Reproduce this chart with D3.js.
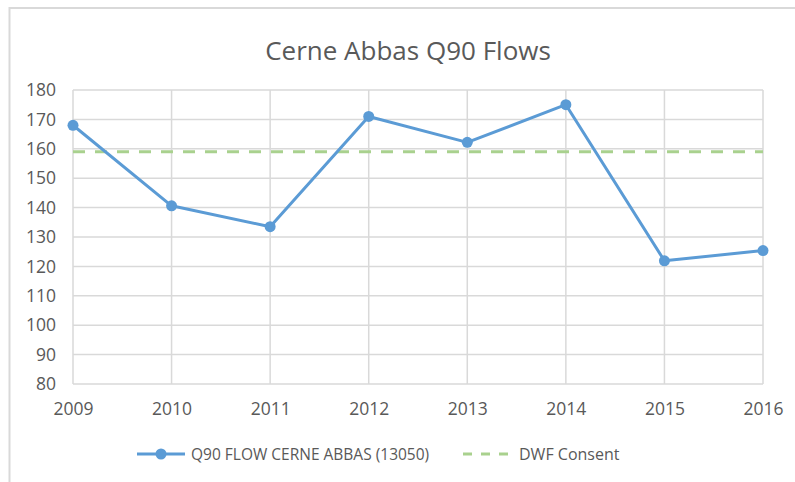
<!DOCTYPE html>
<html>
<head>
<meta charset="utf-8">
<script src="https://cdn.jsdelivr.net/npm/d3@7"></script>
<style>
  body { margin: 0; background: #fff; }
  svg { display: block; font-family: "Open Sans", "Liberation Sans", sans-serif; }
</style>
</head>
<body>
<svg id="chart" width="795" height="482"></svg>
<script>
// Chart data
const years = [2009, 2010, 2011, 2012, 2013, 2014, 2015, 2016];
const q90Flow = [168, 140.6, 133.5, 171, 162.2, 175, 121.9, 125.4];
const dwfConsent = [159, 159, 159, 159, 159, 159, 159, 159];
const yTicks = [80, 90, 100, 110, 120, 130, 140, 150, 160, 170, 180];

const blue = "#5b9bd5";
const green = "#a9d18e";
const grid = "#d9d9d9";
const textColor = "#595959";

const svg = d3.select("#chart");

// Outer chart border (only top/left visible in the frame)
svg.append("rect")
  .attr("x", 9.5).attr("y", 8)
  .attr("width", 800).attr("height", 490)
  .attr("fill", "none")
  .attr("stroke", "#d9d9d9")
  .attr("stroke-width", 2);

// Scales
const x = d3.scalePoint().domain(years).range([73, 763]);
const y = d3.scaleLinear().domain([80, 180]).range([384, 90]);

// Title
svg.append("text")
  .attr("x", 408).attr("y", 60)
  .attr("text-anchor", "middle")
  .attr("fill", textColor)
  .attr("font-size", 26)
  .text("Cerne Abbas Q90 Flows");

// Horizontal gridlines
svg.append("g")
  .selectAll("line")
  .data(yTicks)
  .join("line")
  .attr("x1", x(2009)).attr("x2", x(2016))
  .attr("y1", (d) => y(d)).attr("y2", (d) => y(d))
  .attr("stroke", grid)
  .attr("stroke-width", 1.5);

// Vertical gridlines
svg.append("g")
  .selectAll("line")
  .data(years)
  .join("line")
  .attr("x1", (d) => x(d)).attr("x2", (d) => x(d))
  .attr("y1", y(180)).attr("y2", y(80))
  .attr("stroke", grid)
  .attr("stroke-width", 1.5);

// Y axis labels
const yAxis = svg.append("g")
  .attr("transform", `translate(${x(2009)},0)`)
  .call(d3.axisLeft(y).tickValues(yTicks).tickSize(0).tickPadding(17));
yAxis.select(".domain").remove();
yAxis.selectAll("text")
  .attr("fill", textColor)
  .attr("font-size", 17.5)
  .attr("font-family", "Open Sans, Liberation Sans, sans-serif");

// X axis labels
const xAxis = svg.append("g")
  .attr("transform", `translate(0,${y(80)})`)
  .call(d3.axisBottom(x).tickSize(0).tickPadding(19).tickFormat(d3.format("d")));
xAxis.select(".domain").remove();
xAxis.selectAll("text")
  .attr("fill", textColor)
  .attr("font-size", 17.5)
  .attr("font-family", "Open Sans, Liberation Sans, sans-serif");

// DWF consent line (dashed)
const line = d3.line().x((d, i) => x(years[i])).y((d) => y(d));

svg.append("path")
  .datum(dwfConsent)
  .attr("d", line)
  .attr("fill", "none")
  .attr("stroke", green)
  .attr("stroke-width", 3)
  .attr("stroke-dasharray", "12,10");

// Q90 flow line
svg.append("path")
  .datum(q90Flow)
  .attr("d", line)
  .attr("fill", "none")
  .attr("stroke", blue)
  .attr("stroke-width", 3)
  .attr("stroke-linejoin", "round");

svg.append("g")
  .selectAll("circle")
  .data(q90Flow)
  .join("circle")
  .attr("cx", (d, i) => x(years[i]))
  .attr("cy", (d) => y(d))
  .attr("r", 5.5)
  .attr("fill", blue);

// Legend
const legY = 454;
const leg = svg.append("g");
leg.append("line")
  .attr("x1", 137).attr("x2", 185)
  .attr("y1", legY).attr("y2", legY)
  .attr("stroke", blue).attr("stroke-width", 3);
leg.append("circle")
  .attr("cx", 161).attr("cy", legY).attr("r", 5.5).attr("fill", blue);
leg.append("text")
  .attr("x", 191).attr("y", legY + 6)
  .attr("fill", textColor).attr("font-size", 15.5)
  .text("Q90 FLOW CERNE ABBAS (13050)");

leg.append("line")
  .attr("x1", 463).attr("x2", 512)
  .attr("y1", legY).attr("y2", legY)
  .attr("stroke", green).attr("stroke-width", 3)
  .attr("stroke-dasharray", "9,9");
leg.append("text")
  .attr("x", 519).attr("y", legY + 6)
  .attr("fill", textColor).attr("font-size", 16)
  .text("DWF Consent");
</script>
</body>
</html>
